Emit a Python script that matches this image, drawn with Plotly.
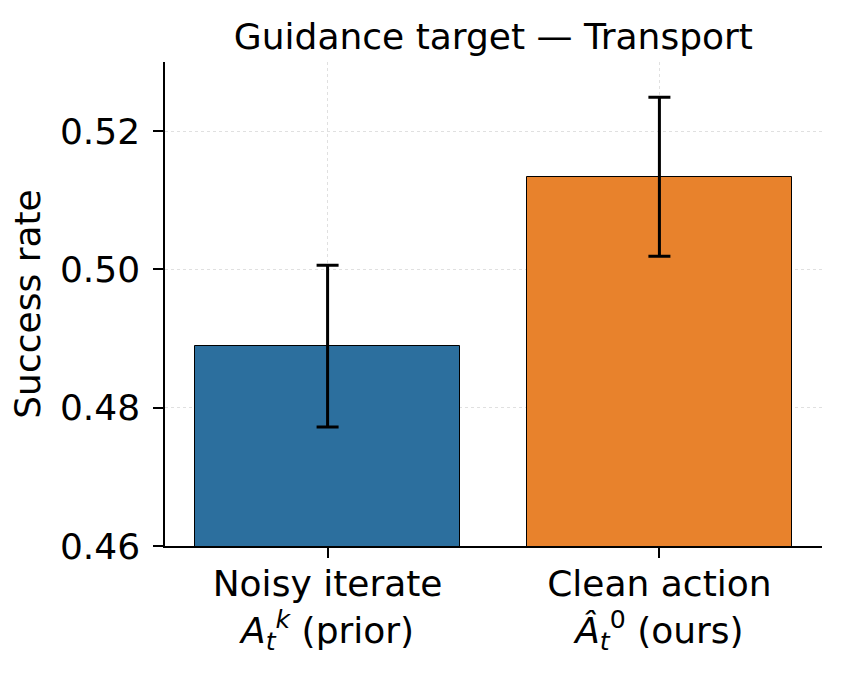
import plotly.graph_objects as go

categories = ["Noisy iterate<br><i>A</i><sub><i>t</i></sub><sup><i>k</i></sup> (prior)",
              "Clean action<br><i>Â</i><sub><i>t</i></sub><sup>0</sup> (ours)"]
x_pos = [0, 1]
means = [0.4889, 0.5134]
errors = [0.0117, 0.0115]
colors = ["#2c6f9e", "#e8822c"]
y_ticks = [0.46, 0.48, 0.50, 0.52]

FS = 36
fig = go.Figure()
fig.add_trace(go.Bar(
    x=x_pos, y=means, width=0.8,
    marker=dict(color=colors, line=dict(color="black", width=1)),
    error_y=dict(type="data", array=errors, visible=True,
                 color="black", thickness=3, width=11),
    showlegend=False,
))

font = "DejaVu Sans"
fig.update_layout(
    width=842, height=681,
    margin=dict(l=165, r=20, t=62, b=135),
    paper_bgcolor="white", plot_bgcolor="white",
    font=dict(family=font, size=FS, color="black"),
    title=dict(text="Guidance target — Transport", x=0.586, xanchor="center",
               y=0.947, yanchor="middle", font=dict(size=FS)),
    bargap=0,
)
fig.update_xaxes(
    range=[-0.49, 1.49], tickvals=x_pos, ticktext=categories,
    showline=True, linecolor="black", linewidth=1.5,
    ticks="outside", ticklen=10, tickwidth=1.5, tickcolor="black",
    showgrid=True, gridcolor="#e0e0e0", griddash="dot", gridwidth=1,
    zeroline=False, tickfont=dict(size=FS), ticklabelstandoff=-5,
)
fig.update_yaxes(
    range=[0.46, 0.53], tickvals=y_ticks, ticktext=[f"{v:.2f}" for v in y_ticks],
    showline=True, linecolor="black", linewidth=1.5,
    ticks="outside", ticklen=10, tickwidth=1.5, tickcolor="black",
    showgrid=True, gridcolor="#e0e0e0", griddash="dot", gridwidth=1,
    zeroline=False, tickfont=dict(size=FS), ticklabelstandoff=6,
    title=dict(text="Success rate", font=dict(size=FS), standoff=8),
)

fig.write_html("out.html")
